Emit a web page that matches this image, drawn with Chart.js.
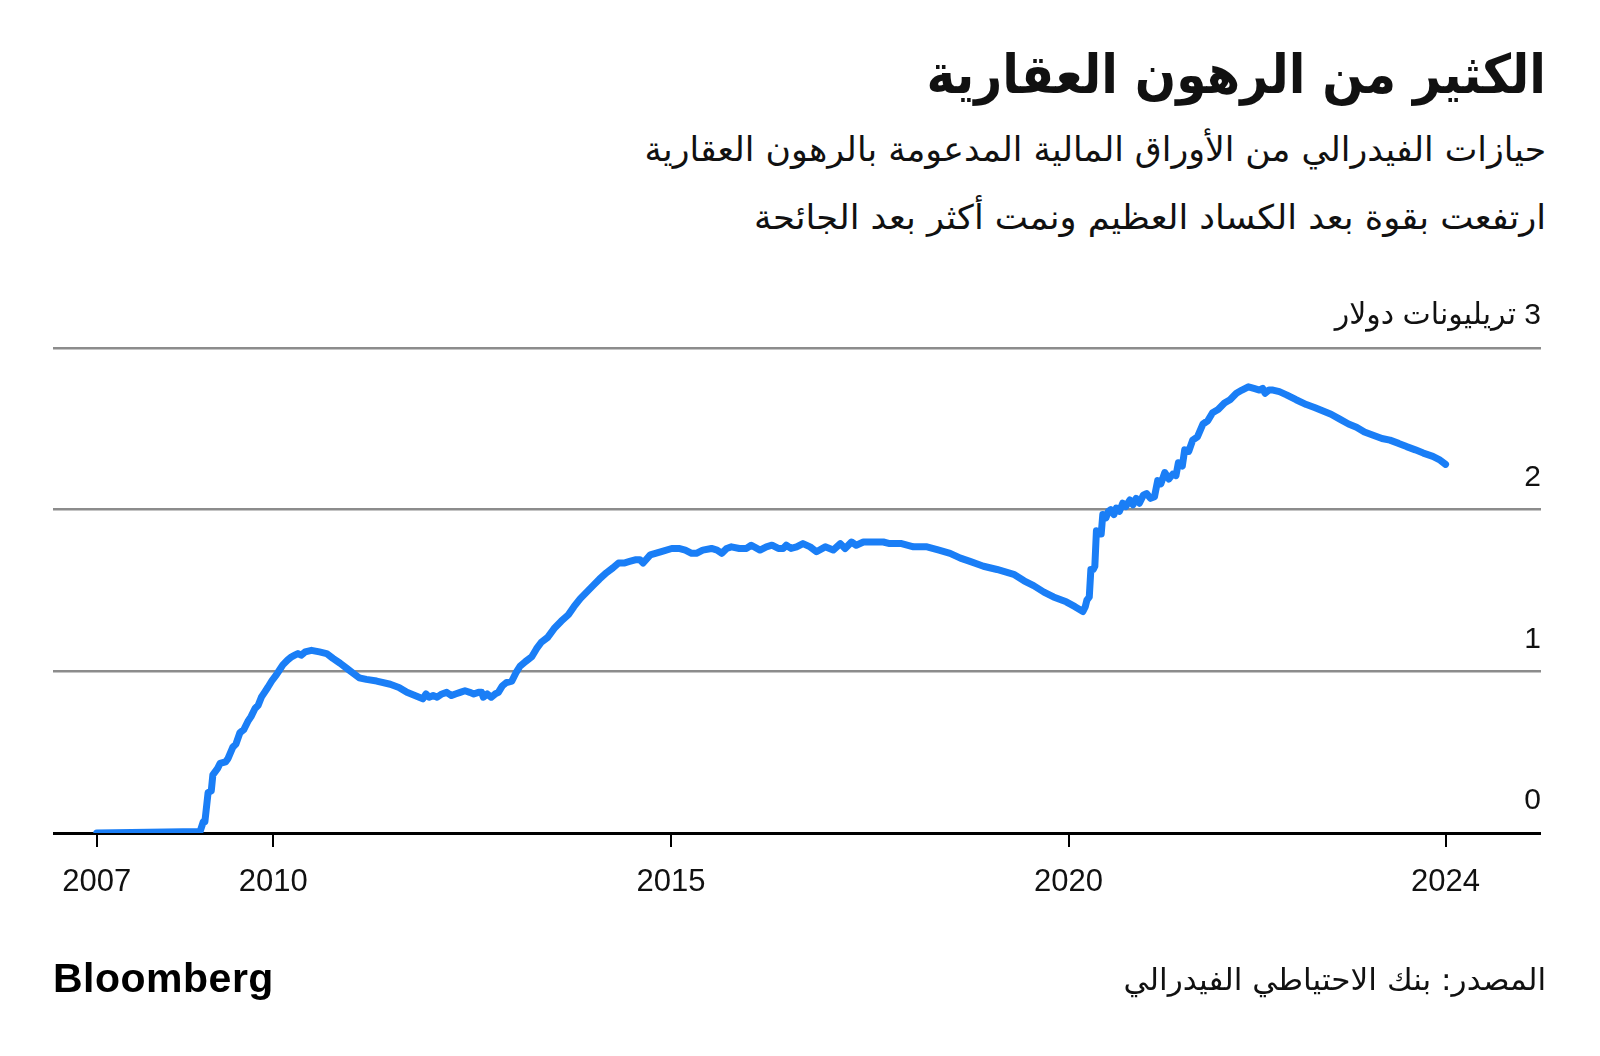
<!DOCTYPE html>
<html lang="ar">
<head>
<meta charset="utf-8">
<script src="https://cdn.jsdelivr.net/npm/chart.js@4.4.1/dist/chart.umd.min.js"></script>
<style>
  html, body { margin: 0; padding: 0; background: #fff; }
  body { width: 1600px; height: 1056px; position: relative; overflow: hidden; }
  #chart-wrap { position: absolute; left: 0; top: 0; width: 1600px; height: 1056px; }
  .txt { position: absolute; right: 54px; white-space: nowrap; direction: rtl; color: #111;
         font-family: "DejaVu Sans Condensed", "DejaVu Sans", sans-serif; transform-origin: right center; }
  #title { top: 40px; height: 70px; line-height: 70px; font-size: 54px; font-weight: 700; }
  .sub { height: 44px; line-height: 44px; font-size: 34px; }
  #sub1 { top: 127px; transform: scaleX(1.134); }
  #sub2 { top: 195px; transform: scaleX(1.151); }
  #source { top: 958px; height: 44px; line-height: 44px; font-size: 30px; transform: scaleX(1.154); }
  #logo { position: absolute; left: 53px; top: 954px; height: 48px; line-height: 48px;
          font-family: "Liberation Sans", Arial, sans-serif; font-weight: 700; font-size: 41px;
          letter-spacing: 0.5px; color: #000; }
</style>
</head>
<body>
<div id="title" class="txt">الكثير من الرهون العقارية</div>
<div id="sub1" class="txt sub">حيازات الفيدرالي من الأوراق المالية المدعومة بالرهون العقارية</div>
<div id="sub2" class="txt sub">ارتفعت بقوة بعد الكساد العظيم ونمت أكثر بعد الجائحة</div>
<div id="chart-wrap"><canvas id="chart" dir="rtl"></canvas></div>
<div id="logo">Bloomberg</div>
<div id="source" class="txt">المصدر: بنك الاحتياطي الفيدرالي</div>
<script>
// MBS holdings of the Fed, trillions of dollars
const dates = [
  2007.78, 2009.08, 2009.12, 2009.14, 2009.18, 2009.22, 2009.24, 2009.30, 2009.33, 2009.40,
  2009.43, 2009.49, 2009.53, 2009.58, 2009.63, 2009.68, 2009.72, 2009.77, 2009.81, 2009.85,
  2009.89, 2009.93, 2009.98, 2010.04, 2010.08, 2010.12, 2010.18, 2010.23, 2010.27, 2010.31,
  2010.35, 2010.40, 2010.48, 2010.58, 2010.67, 2010.75, 2010.84, 2010.92, 2011.00, 2011.08,
  2011.17, 2011.30, 2011.47, 2011.58, 2011.68, 2011.78, 2011.88, 2011.92, 2011.96, 2012.01,
  2012.06, 2012.12, 2012.18, 2012.24, 2012.29, 2012.35, 2012.41, 2012.47, 2012.52, 2012.58,
  2012.62, 2012.64, 2012.69, 2012.74, 2012.79, 2012.83, 2012.88, 2012.93, 2013.00, 2013.05,
  2013.10, 2013.17, 2013.25, 2013.31, 2013.37, 2013.45, 2013.54, 2013.62, 2013.71, 2013.78,
  2013.86, 2013.94, 2014.02, 2014.10, 2014.19, 2014.27, 2014.34, 2014.41, 2014.48, 2014.55,
  2014.61, 2014.65, 2014.74, 2014.88, 2015.01, 2015.10, 2015.18, 2015.26, 2015.32, 2015.40,
  2015.51, 2015.58, 2015.64, 2015.70, 2015.76, 2015.86, 2015.95, 2016.01, 2016.12, 2016.20,
  2016.27, 2016.35, 2016.41, 2016.45, 2016.51, 2016.58, 2016.66, 2016.75, 2016.83, 2016.94,
  2017.04, 2017.13, 2017.19, 2017.27, 2017.33, 2017.42, 2017.55, 2017.67, 2017.75, 2017.90,
  2018.05, 2018.22, 2018.37, 2018.51, 2018.64, 2018.76, 2018.93, 2019.10, 2019.31, 2019.44,
  2019.56, 2019.69, 2019.81, 2019.97, 2020.08, 2020.18, 2020.21, 2020.23, 2020.26, 2020.28,
  2020.31, 2020.33, 2020.35, 2020.38, 2020.41, 2020.43, 2020.47, 2020.50, 2020.53, 2020.57,
  2020.60, 2020.64, 2020.68, 2020.72, 2020.77, 2020.81, 2020.85, 2020.89, 2020.94, 2020.98,
  2021.03, 2021.08, 2021.12, 2021.16, 2021.21, 2021.26, 2021.31, 2021.35, 2021.38, 2021.43,
  2021.46, 2021.51, 2021.56, 2021.62, 2021.69, 2021.75, 2021.81, 2021.88, 2021.96, 2022.03,
  2022.11, 2022.18, 2022.26, 2022.33, 2022.40, 2022.44, 2022.47, 2022.52, 2022.57, 2022.65,
  2022.74, 2022.86, 2022.99, 2023.10, 2023.20, 2023.30, 2023.41, 2023.52, 2023.62, 2023.72,
  2023.83, 2023.94, 2024.04, 2024.15, 2024.25, 2024.36, 2024.46, 2024.58, 2024.66, 2024.74,
];
const holdings = [
  0.00, 0.01, 0.07, 0.07, 0.25, 0.26, 0.36, 0.40, 0.43, 0.44,
  0.46, 0.53, 0.55, 0.62, 0.64, 0.69, 0.72, 0.77, 0.79, 0.84,
  0.87, 0.90, 0.94, 0.98, 1.01, 1.04, 1.07, 1.09, 1.10, 1.11,
  1.10, 1.12, 1.13, 1.12, 1.11, 1.08, 1.05, 1.02, 0.99, 0.96,
  0.95, 0.94, 0.92, 0.90, 0.87, 0.85, 0.83, 0.86, 0.84, 0.85,
  0.84, 0.86, 0.87, 0.85, 0.86, 0.87, 0.88, 0.87, 0.86, 0.87,
  0.87, 0.84, 0.86, 0.84, 0.86, 0.87, 0.91, 0.93, 0.94, 0.99,
  1.03, 1.06, 1.09, 1.14, 1.18, 1.21, 1.27, 1.31, 1.35, 1.40,
  1.45, 1.49, 1.53, 1.57, 1.61, 1.64, 1.67, 1.67, 1.68, 1.69,
  1.69, 1.67, 1.72, 1.74, 1.76, 1.76, 1.75, 1.73, 1.73, 1.75,
  1.76, 1.75, 1.73, 1.76, 1.77, 1.76, 1.76, 1.78, 1.75, 1.77,
  1.78, 1.76, 1.76, 1.78, 1.76, 1.77, 1.79, 1.77, 1.74, 1.77,
  1.75, 1.79, 1.76, 1.80, 1.78, 1.80, 1.80, 1.80, 1.79, 1.79,
  1.77, 1.77, 1.75, 1.73, 1.70, 1.68, 1.65, 1.63, 1.60, 1.56,
  1.53, 1.49, 1.46, 1.43, 1.40, 1.37, 1.40, 1.44, 1.46, 1.63,
  1.63, 1.65, 1.87, 1.85, 1.85, 1.97, 1.95, 1.99, 2.00, 1.97,
  2.01, 1.99, 2.04, 2.02, 2.06, 2.03, 2.07, 2.04, 2.09, 2.10,
  2.07, 2.08, 2.18, 2.16, 2.23, 2.19, 2.22, 2.21, 2.29, 2.27,
  2.37, 2.36, 2.43, 2.45, 2.53, 2.55, 2.60, 2.62, 2.66, 2.68,
  2.72, 2.74, 2.76, 2.75, 2.74, 2.75, 2.72, 2.74, 2.74, 2.73,
  2.71, 2.68, 2.65, 2.63, 2.61, 2.59, 2.56, 2.53, 2.51, 2.48,
  2.46, 2.44, 2.43, 2.41, 2.39, 2.37, 2.35, 2.33, 2.31, 2.28,
];

const xTickValues = [2007.78, 2010, 2015, 2020, 2024.74];
const xTickLabels = ['2007', '2010', '2015', '2020', '2024'];
const yTickValues = [0, 1, 2, 3];
const yTickLabels = ['0', '1', '2', '3 تريليونات دولار'];

const LINE_BLUE = '#1a7ef6';
const GRID_GRAY = '#8c8c8c';
const TEXT = '#111';
const FONT = '"Liberation Sans", Arial, "DejaVu Sans", sans-serif';

function buildChart() {
  const points = dates.map((d, i) => ({ x: d, y: holdings[i] }));
  const ctx = document.getElementById('chart').getContext('2d');
  new Chart(ctx, {
    type: 'line',
    data: {
      datasets: [{
        data: points,
        borderColor: LINE_BLUE,
        borderWidth: 7,
        pointRadius: 0,
        tension: 0,
        borderCapStyle: 'round',
        borderJoinStyle: 'round',
        fill: false,
      }],
    },
    options: {
      responsive: false,
      animation: false,
      events: [],
      layout: { padding: { left: 53, right: 59, top: 348, bottom: 143 } },
      plugins: { legend: { display: false }, tooltip: { enabled: false } },
      scales: {
        x: {
          type: 'linear',
          min: 2007.23, max: 2025.94,
          afterBuildTicks: s => { s.ticks = xTickValues.map(v => ({ value: v })); },
          afterFit: s => { s.height = 80; },
          border: { display: false },
          grid: { drawOnChartArea: false, drawTicks: true, tickLength: 14, color: '#000', lineWidth: 2 },
          ticks: {
            autoSkip: false, maxRotation: 0, padding: 17,
            font: { family: FONT, size: 31 }, color: TEXT,
            callback: v => xTickLabels[xTickValues.indexOf(v)],
          },
        },
        y: {
          position: 'right',
          min: 0, max: 3,
          afterBuildTicks: s => { s.ticks = yTickValues.map(v => ({ value: v })); },
          afterFit: s => { s.width = 0; },
          border: { display: false },
          grid: {
            drawTicks: false,
            color: c => c.tick && c.tick.value === 0 ? '#000' : GRID_GRAY,
            lineWidth: c => c.tick && c.tick.value === 0 ? 3 : 2.5,
          },
          ticks: {
            mirror: true, padding: 0, labelOffset: -32,
            font: { family: FONT, size: 30 }, color: TEXT,
            callback: v => yTickLabels[yTickValues.indexOf(v)],
          },
        },
      },
    },
  });
}

const cv = document.getElementById('chart');
cv.width = 1600; cv.height = 1056;
cv.style.width = '1600px'; cv.style.height = '1056px';
buildChart();
</script>
</body>
</html>
